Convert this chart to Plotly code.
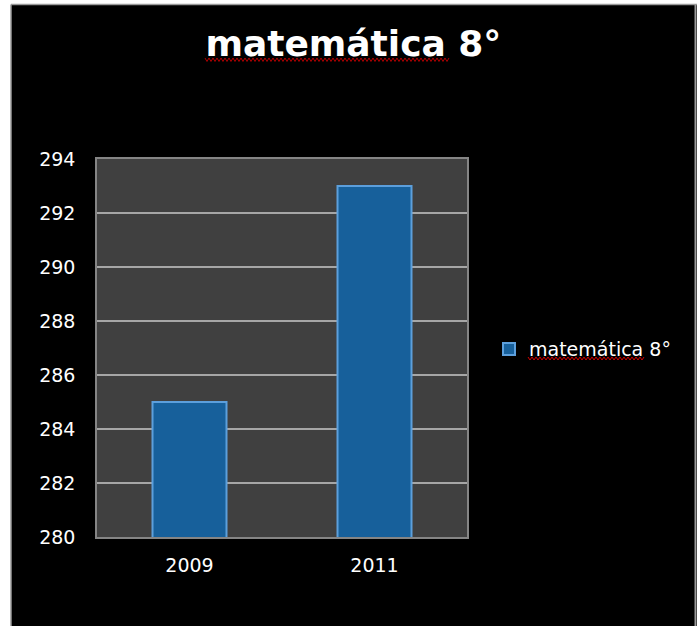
import plotly.graph_objects as go

# Data
categories = ["2009", "2011"]
values = [285, 293]
series_name = "matemática 8°"
title_text = "matemática 8°"
y_ticks = [280, 282, 284, 286, 288, 290, 292, 294]

W, H = 697, 626
L, R, T, B = 97, 230, 159, 89
pw = W - L - R
ph = H - T - B


def px(xp):
    return (xp - L) / pw


def py(yp):
    return (H - B - yp) / ph


def squiggle(x0, x1, ytop, ybot, step=2.0):
    pts = []
    x = x0
    up = True
    while x <= x1:
        pts.append((px(x), py(ytop if up else ybot)))
        up = not up
        x += step
    return "M" + " L".join(f"{a:.5f},{b:.5f}" for a, b in pts)


font_fam = "DejaVu Sans"

fig = go.Figure()
fig.add_trace(go.Bar(
    x=categories,
    y=values,
    name=series_name,
    marker=dict(color="#17609b", line=dict(color="#5c9fdc", width=2)),
    showlegend=True,
))

fig.update_layout(
    width=W, height=H,
    margin=dict(l=L, r=R, t=T, b=B, autoexpand=False),
    paper_bgcolor="black",
    plot_bgcolor="#404040",
    bargap=0.6,
    title=dict(
        text="<b>" + title_text + "</b>",
        x=0.507, xanchor="center",
        y=1 - 43 / H, yanchor="middle", yref="container",
        font=dict(family=font_fam, size=36, color="white"),
    ),
    showlegend=True,
    legend=dict(
        x=px(489), xanchor="left", y=0.497, yanchor="middle",
        font=dict(family=font_fam, size=19, color="white"),
        bgcolor="rgba(0,0,0,0)",
    ),
    xaxis=dict(
        type="category",
        showgrid=False,
        showline=True, linecolor="#858585", linewidth=1.5, mirror=True,
        ticks="", ticklabelstandoff=10,
        tickfont=dict(family=font_fam, size=19, color="white"),
    ),
    yaxis=dict(
        range=[280, 294],
        tickvals=y_ticks,
        showgrid=True, gridcolor="#a6a6a6", gridwidth=1.5,
        showline=True, linecolor="#858585", linewidth=1.5, mirror=True,
        zeroline=False,
        ticks="", ticklabelstandoff=16,
        tickfont=dict(family=font_fam, size=19, color="white"),
    ),
)

# page edges (white margin with thin gray edge lines)
fig.add_shape(type="rect", xref="paper", yref="paper",
              x0=px(-2), x1=px(11), y0=py(H + 2), y1=py(-2),
              fillcolor="white", line=dict(width=0), layer="above")
fig.add_shape(type="rect", xref="paper", yref="paper",
              x0=px(-2), x1=px(W + 2), y0=py(4), y1=py(-2),
              fillcolor="white", line=dict(width=0), layer="above")
fig.add_shape(type="line", xref="paper", yref="paper",
              x0=px(11), x1=px(W), y0=py(4.5), y1=py(4.5),
              line=dict(color="#9a9a9a", width=1.5), layer="above")
fig.add_shape(type="line", xref="paper", yref="paper",
              x0=px(11), x1=px(11), y0=py(4.5), y1=py(H + 2),
              line=dict(color="#9a9a9a", width=1.5), layer="above")
fig.add_shape(type="line", xref="paper", yref="paper",
              x0=px(695.5), x1=px(695.5), y0=py(4.5), y1=py(H + 2),
              line=dict(color="#9a9a9a", width=2), layer="above")

# spell-check squiggles under "matemática"
fig.add_shape(type="path", xref="paper", yref="paper",
              path=squiggle(205, 450, 58, 61.5),
              line=dict(color="#b00000", width=1), layer="above")
fig.add_shape(type="path", xref="paper", yref="paper",
              path=squiggle(528, 645, 357, 360),
              line=dict(color="#d00000", width=1), layer="above")

fig.write_html("out.html", config={"displayModeBar": False},
               post_script="document.body.style.margin='0';")
